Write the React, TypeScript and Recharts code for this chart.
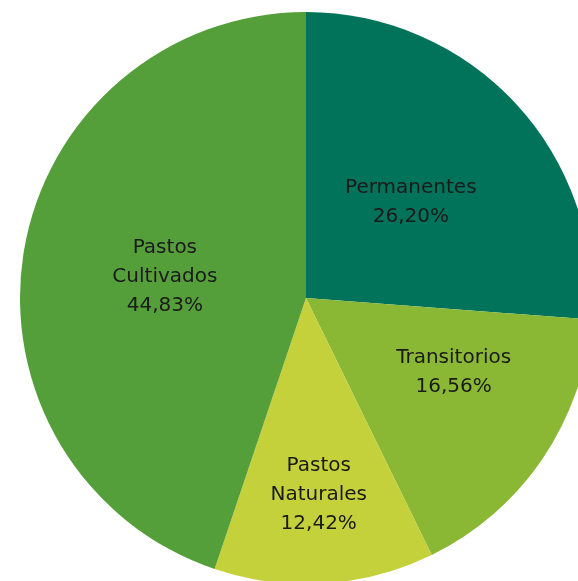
import React from "react";
import { PieChart, Pie, Cell } from "recharts";

const categories = ["Permanentes", "Transitorios", "Pastos Naturales", "Pastos Cultivados"];
const labelLines = [["Permanentes"], ["Transitorios"], ["Pastos", "Naturales"], ["Pastos", "Cultivados"]];
const values = [26.2, 16.56, 12.42, 44.83];
const valueLabels = ["26,20%", "16,56%", "12,42%", "44,83%"];
const colors = ["#00735A", "#8BB834", "#C4D13B", "#559F3B"];

// label placement style: radius fraction and angle adjustment (degrees)
const labelRadius = [0.5, 0.575, 0.685, 0.5];
const labelAngleShift = [0, 8, 0, 0];

const data = categories.map((name, i) => ({ name, value: values[i] }));

const RAD = Math.PI / 180;
const LINE_H = 29;

const renderLabel = (props: any) => {
  const { cx, cy, midAngle, outerRadius, index } = props;
  const r = outerRadius * labelRadius[index];
  const a = (midAngle + labelAngleShift[index]) * RAD;
  const x = cx + r * Math.cos(a);
  const y = cy - r * Math.sin(a);
  const lines = [...labelLines[index], valueLabels[index]];
  const startY = y - ((lines.length - 1) * LINE_H) / 2;
  return (
    <text
      x={x}
      y={startY}
      textAnchor="middle"
      dominantBaseline="central"
      fontFamily="DejaVu Sans, sans-serif"
      fontSize={20}
      fill="#1a1a1a"
    >
      {lines.map((l, k) => (
        <tspan key={k} x={x} y={startY + k * LINE_H}>
          {l}
        </tspan>
      ))}
    </text>
  );
};

export default function App() {
  return (
    <div style={{ position: "fixed", left: 0, top: 0, width: 578, height: 581 }}>
      <style>{"html,body{overflow:hidden}"}</style>
      <PieChart width={578} height={581} margin={{ top: 0, right: 0, bottom: 0, left: 0 }}>
        <Pie
          data={data}
          dataKey="value"
          nameKey="name"
          cx={306}
          cy={298}
          outerRadius={286}
          startAngle={90}
          endAngle={-270}
          stroke="none"
          label={renderLabel}
          labelLine={false}
          isAnimationActive={false}
        >
          {data.map((d, i) => (
            <Cell key={d.name} fill={colors[i]} />
          ))}
        </Pie>
      </PieChart>
    </div>
  );
}
